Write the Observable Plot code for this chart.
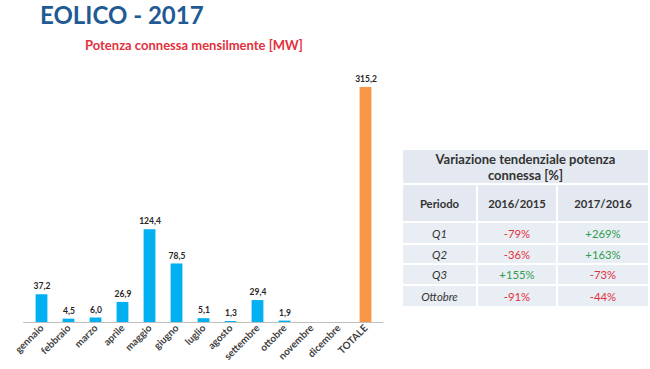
<!DOCTYPE html>
<html><head><meta charset="utf-8">
<script src="https://cdn.jsdelivr.net/npm/d3@7"></script>
<script src="https://cdn.jsdelivr.net/npm/@observablehq/plot@0.6"></script>
<style>
body{margin:0;background:#fff;width:650px;height:369px;overflow:hidden;position:relative;font-family:Lato,"Open Sans",sans-serif;}
#title{position:absolute;left:40px;top:1px;font-size:24px;line-height:28px;font-weight:bold;color:#1F5A93;white-space:nowrap;}
#subtitle{position:absolute;left:85px;top:37px;font-size:13px;line-height:16px;font-weight:bold;color:#E2313C;white-space:nowrap;}
#chart{position:absolute;left:0;top:0;}
#tbl{position:absolute;left:401px;top:148px;border-collapse:collapse;font-family:Lato,"Open Sans",sans-serif;}
#tbl td{background:#E9EDF4;border:2px solid #fff;text-align:center;padding:0;color:#333;}
#tbl tr.h td{background:#E4E9F1;}
</style></head><body>
<div id="title">EOLICO - 2017</div>
<div id="subtitle">Potenza connessa mensilmente [MW]</div>
<div id="chart"></div>
<table id="tbl"></table>
<script>
const months = ["gennaio","febbraio","marzo","aprile","maggio","giugno","luglio","agosto","settembre","ottobre","novembre","dicembre","TOTALE"];
const values = [37.2,4.5,6.0,26.9,124.4,78.5,5.1,1.3,29.4,1.9,null,null,315.2];
const tableTitle = ["Variazione tendenziale potenza","connessa [%]"];
const tableCols = ["Periodo","2016/2015","2017/2016"];
const periods = ["Q1","Q2","Q3","Ottobre"];
const var1615 = ["-79%","-36%","+155%","-91%"];
const var1716 = ["+269%","+163%","-73%","-44%"];

const data = months.map((m,i)=>({m, v: values[i]}));
const fmt = v => v.toFixed(1).replace(".", ",");
const chart = Plot.plot({
  width: 400, height: 369,
  marginLeft: 23.15, marginRight: 16.65, marginTop: 61, marginBottom: 47,
  x: {domain: months, padding: 0, label: null, tickSize: 0, tickRotate: -45, tickPadding: 4},
  y: {domain: [0, 350], axis: null},
  style: {fontFamily: "Lato, 'Open Sans', sans-serif", fontSize: "10px", fontWeight: "bold", color: "#404040", background: "transparent"},
  marks: [
    Plot.barY(data.filter(d=>d.v!=null), {x:"m", y:"v", insetLeft: 7.6, insetRight: 7.6, fill: d => d.m==="TOTALE" ? "#F79646" : "#00B0F0"}),
    Plot.ruleY([0], {stroke:"#BFBFBF", strokeWidth:1.2}),
    Plot.text(data.filter(d=>d.v!=null), {x:"m", y:"v", text: d=>fmt(d.v), dy:-8, fontSize:8.5, fontWeight:"bold", fill:"#262626"})
  ]
});
document.getElementById("chart").appendChild(chart);

const tbl = document.getElementById("tbl");
const colW = [75,80,92];
const rowH = [35,38,22,20,21,22];
const red = "#E2313C", green = "#2E9E4E";
let html = `<tr class="h"><td colspan="3" style="height:${rowH[0]-2}px;font-size:13px;font-weight:bold;line-height:16px;color:#333">${tableTitle.join("<br>")}</td></tr>`;
html += `<tr class="h">` + tableCols.map((c,i)=>`<td style="width:${colW[i]-2}px;height:${rowH[1]-2}px;font-size:11.3px;font-weight:bold;color:#333">${c}</td>`).join("") + `</tr>`;
periods.forEach((p,i)=>{
  const c1 = var1615[i].startsWith("+") ? green : red;
  const c2 = var1716[i].startsWith("+") ? green : red;
  html += `<tr><td style="height:${rowH[i+2]-2}px;font-size:11.3px;font-style:italic">${p}</td><td style="font-size:11.3px;color:${c1}">${var1615[i]}</td><td style="font-size:11.3px;color:${c2}">${var1716[i]}</td></tr>`;
});
tbl.innerHTML = html;
</script>
</body></html>
